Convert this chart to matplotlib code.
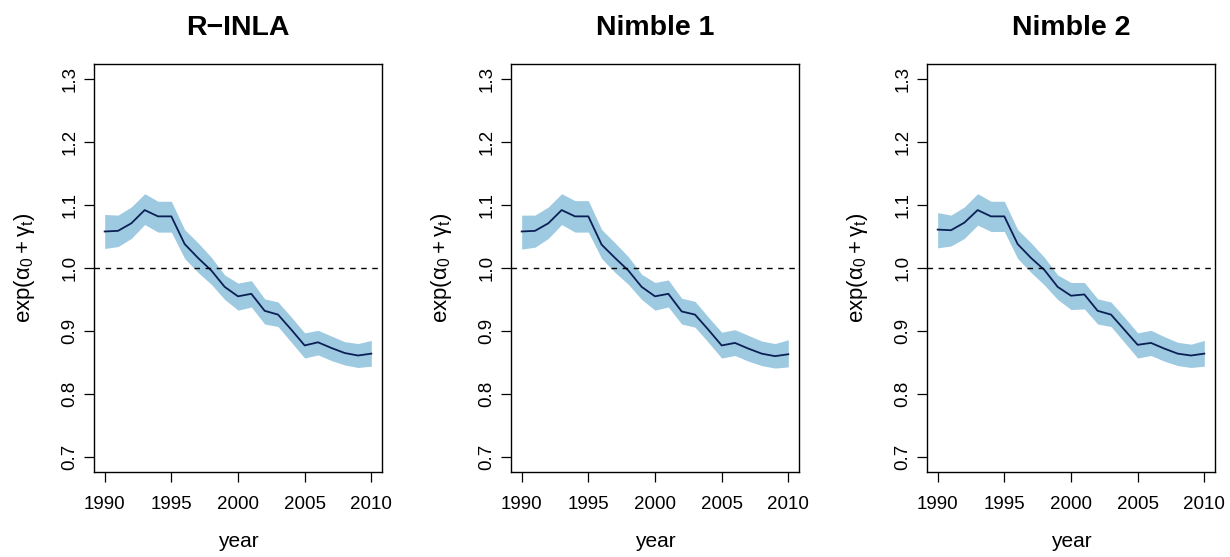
import numpy as np
import matplotlib
matplotlib.use("Agg")
import matplotlib.pyplot as plt

# ----------------------------------------------------------
# dados (tendencia temporal exp(alpha0 + gamma_t))
# ----------------------------------------------------------
anos = list(range(1990, 2011))

titulos = ["R\u2212INLA", "Nimble 1", "Nimble 2"]

media_inla = [1.058, 1.059, 1.071, 1.092, 1.082, 1.082, 1.038, 1.016, 0.996,
              0.970, 0.955, 0.959, 0.932, 0.926, 0.902, 0.877, 0.882, 0.873,
              0.865, 0.861, 0.864]
sup_inla = [1.085, 1.084, 1.097, 1.118, 1.106, 1.106, 1.061, 1.040, 1.017,
            0.989, 0.976, 0.980, 0.951, 0.946, 0.922, 0.897, 0.901, 0.892,
            0.883, 0.880, 0.885]
inf_inla = [1.031, 1.034, 1.047, 1.069, 1.057, 1.057, 1.015, 0.993, 0.974,
            0.950, 0.933, 0.938, 0.911, 0.907, 0.882, 0.857, 0.862, 0.853,
            0.846, 0.842, 0.844]

media_nimble1 = [1.058, 1.059, 1.071, 1.092, 1.082, 1.082, 1.037, 1.016, 0.996,
                 0.970, 0.955, 0.959, 0.931, 0.926, 0.902, 0.877, 0.881, 0.872,
                 0.864, 0.860, 0.863]
sup_nimble1 = [1.084, 1.084, 1.097, 1.118, 1.107, 1.107, 1.061, 1.040, 1.018,
               0.990, 0.977, 0.981, 0.952, 0.947, 0.922, 0.898, 0.902, 0.893,
               0.884, 0.880, 0.886]
inf_nimble1 = [1.030, 1.033, 1.047, 1.069, 1.057, 1.057, 1.015, 0.993, 0.974,
               0.950, 0.933, 0.938, 0.911, 0.906, 0.882, 0.857, 0.861, 0.852,
               0.845, 0.841, 0.843]

media_nimble2 = [1.061, 1.060, 1.072, 1.092, 1.082, 1.082, 1.038, 1.016, 0.997,
                 0.970, 0.956, 0.958, 0.932, 0.926, 0.902, 0.878, 0.881, 0.872,
                 0.864, 0.861, 0.864]
sup_nimble2 = [1.088, 1.084, 1.097, 1.118, 1.106, 1.106, 1.061, 1.040, 1.017,
               0.989, 0.977, 0.977, 0.951, 0.946, 0.922, 0.897, 0.901, 0.891,
               0.882, 0.879, 0.885]
inf_nimble2 = [1.032, 1.035, 1.047, 1.068, 1.058, 1.058, 1.015, 0.993, 0.973,
               0.950, 0.934, 0.935, 0.911, 0.907, 0.882, 0.857, 0.861, 0.852,
               0.845, 0.842, 0.844]

medias = [media_inla, media_nimble1, media_nimble2]
superiores = [sup_inla, sup_nimble1, sup_nimble2]
inferiores = [inf_inla, inf_nimble1, inf_nimble2]

x_ticks = [1990, 1995, 2000, 2005, 2010]
y_ticks = [0.7, 0.8, 0.9, 1.0, 1.1, 1.2, 1.3]

cor_banda = "#9ECAE1"
cor_linha = "#0B1F55"

plt.rcParams["font.family"] = ["Liberation Sans", "DejaVu Sans"]
plt.rcParams["mathtext.fontset"] = "custom"
plt.rcParams["mathtext.rm"] = "Liberation Sans"
plt.rcParams["mathtext.it"] = "Liberation Sans:italic"

# ----------------------------------------------------------
# figura
# ----------------------------------------------------------
fig = plt.figure(figsize=(12.3, 5.57), dpi=100)

lefts = [94, 511, 927]
for i in range(3):
    ax = fig.add_axes([lefts[i] / 1230, 85 / 557, 288 / 1230, 408 / 557])

    ax.fill_between(anos, inferiores[i], superiores[i],
                    color=cor_banda, linewidth=0)
    ax.plot(anos, medias[i], color=cor_linha, linewidth=1.3)
    ax.axhline(1.0, color="black", linestyle=(0, (4, 4)), linewidth=1.0)

    ax.set_xlim(1989.2, 2010.8)
    ax.set_ylim(0.676, 1.324)
    ax.set_xticks(x_ticks)
    ax.set_yticks(y_ticks)
    ax.set_yticklabels([f"{v:.1f}" for v in y_ticks],
                       rotation=90, va="center")

    ax.tick_params(axis="both", direction="out", length=7, width=0.9,
                   labelsize=13.5)
    ax.tick_params(axis="x", pad=10)
    ax.tick_params(axis="y", pad=4)
    for s in ax.spines.values():
        s.set_linewidth(1.0)

    ax.set_title(titulos[i], fontsize=20.5, fontweight="bold", pad=21)
    ax.set_xlabel("year", fontsize=15, labelpad=14)
    ax.set_ylabel(r"exp($\mathrm{\alpha}_0 + \mathrm{\gamma}_\mathrm{t}$)",
                  fontsize=16, labelpad=18)

plt.savefig("out.png", dpi=100)
